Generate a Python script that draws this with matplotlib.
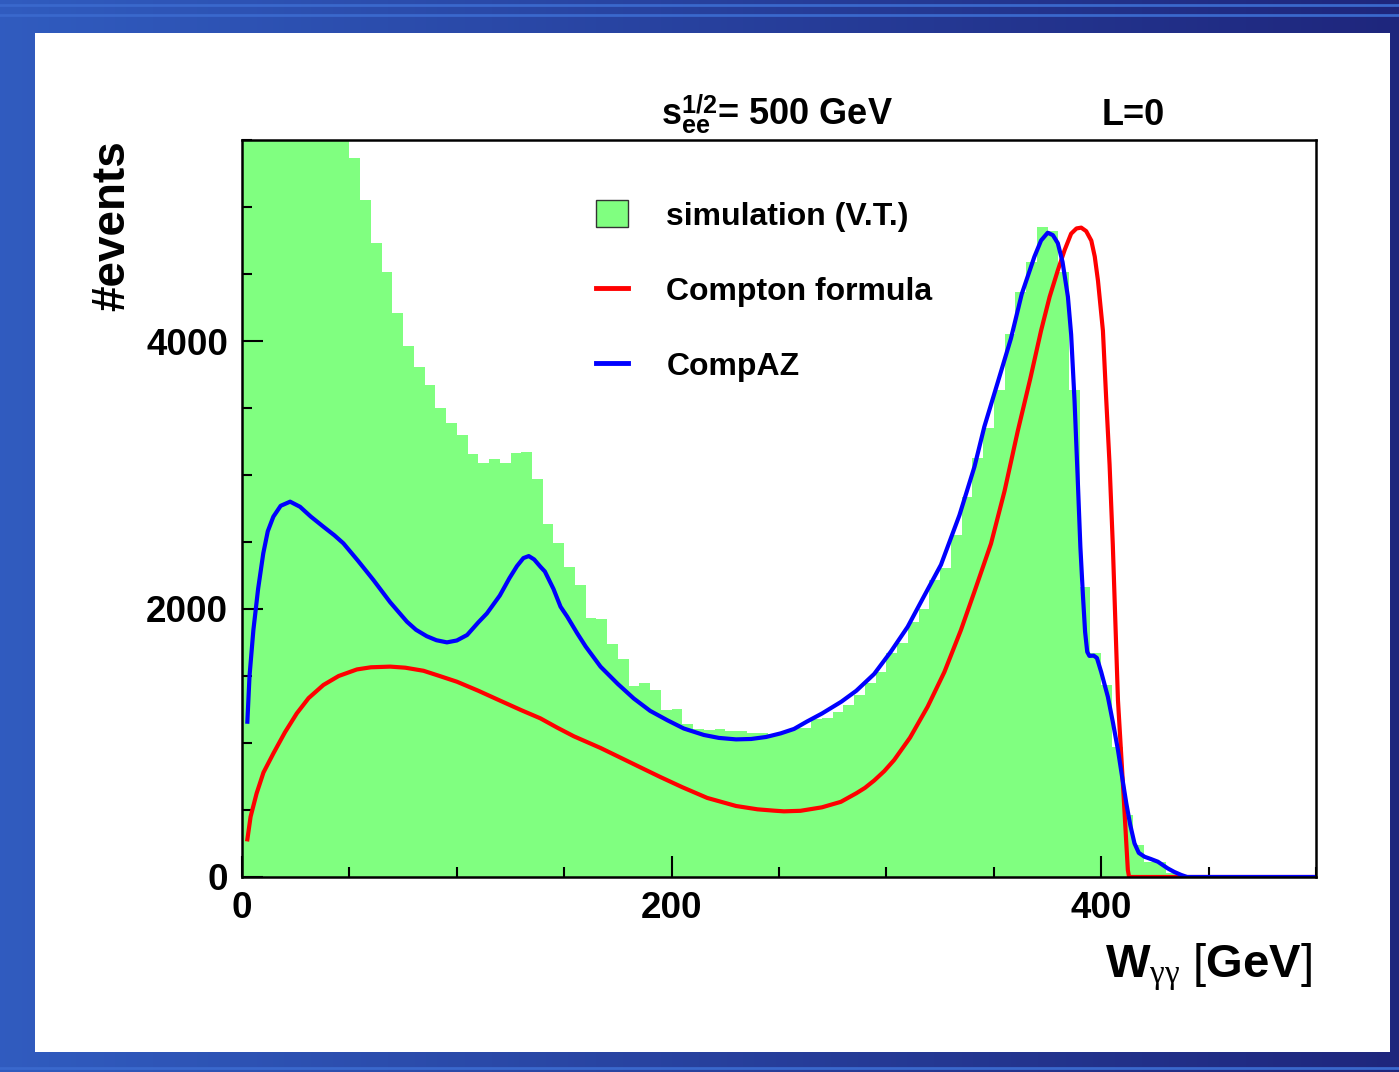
import numpy as np
import matplotlib
matplotlib.use("Agg")
import matplotlib.pyplot as plt
from matplotlib.patches import Patch, Rectangle
from matplotlib.lines import Line2D

plt.rcParams['font.family'] = ['Liberation Sans', 'DejaVu Sans']
plt.rcParams['mathtext.fontset'] = 'custom'
plt.rcParams['mathtext.rm'] = 'Liberation Sans'
plt.rcParams['mathtext.bf'] = 'Liberation Sans:bold'
plt.rcParams['mathtext.it'] = 'Liberation Serif'

# histogram: 5 GeV bins from 0 to 500 (first bins run off the top of the frame)
bin_width = 5
counts = [
    14000, 12500, 11200, 10000, 9000, 8200, 7500, 6800, 6200, 5700,      # 0-50
    5368, 5052, 4728, 4518, 4212, 3963, 3806, 3669, 3502, 3386,          # 50-100
    3300, 3160, 3092, 3117, 3092, 3166, 3174, 2970, 2634, 2490,          # 100-150
    2311, 2179, 1930, 1923, 1736, 1624, 1427, 1445, 1395, 1246,          # 150-200
    1254, 1142, 1104, 1097, 1104, 1090, 1090, 1077, 1077, 1070,          # 200-250
    1080, 1110, 1115, 1180, 1190, 1230, 1284, 1358, 1445, 1532,          # 250-300
    1669, 1746, 1904, 2003, 2216, 2303, 2552, 2838, 3124, 3348,          # 300-350
    3634, 4052, 4368, 4592, 4853, 4823, 4517, 3634, 2166, 1669,          # 350-400
    1433, 972, 463, 239, 114, 110, 30, 8, 0, 0,                          # 400-450
    0, 0, 0, 0, 0, 0, 0, 0, 0, 0,                                        # 450-500
]

# CompAZ curve
compaz_x = [2.5, 3.5, 5.3, 7.5, 9.9, 12, 14.6, 18, 22.4, 27, 32, 37.9, 43, 47.2,
            54, 61.2, 69, 76.8, 81, 86, 90.5, 95.4, 100, 104.8, 110, 114, 120, 124.5,
            128, 131, 133.5, 136, 138.9, 141, 145, 148.3, 151.4, 156, 160,
            166.9, 175, 182.4, 190, 198, 205.7, 215, 222, 230, 237, 244, 250.8,
            257, 263, 270, 279, 286, 294.3, 302, 309.9, 317, 325.4, 334, 341,
            345.6, 352, 358, 363, 368.9, 372, 375.1, 377.5, 379.8, 382, 384.5,
            386, 387.6, 389, 390.3, 391.5, 392.5, 393.5, 394.5, 396.5, 398,
            400, 403.1, 405.5, 407.8, 410, 411.7, 413.5, 415.5, 417.5, 420.2,
            423, 426.4, 431, 434, 437.3, 440, 500]
compaz_y = [1159, 1500, 1843, 2150, 2415, 2580, 2689, 2770, 2801, 2763, 2690, 2614,
            2550, 2490, 2360, 2216, 2050, 1905, 1845, 1797, 1767, 1751, 1765, 1806,
            1900, 1967, 2100, 2230, 2320, 2380, 2395, 2370, 2316, 2280, 2150, 2017,
            1943, 1820, 1720, 1570, 1440, 1332, 1240, 1170, 1108, 1060, 1038, 1027,
            1030, 1045, 1072, 1105, 1160, 1220, 1308, 1390, 1515, 1680, 1867, 2080,
            2330, 2700, 3062, 3361, 3700, 4020, 4350, 4629, 4750, 4808, 4790, 4730,
            4590, 4330, 4050, 3550, 3000, 2465, 2100, 1830, 1680, 1650, 1652, 1635,
            1530, 1345, 1150, 948, 720, 549, 390, 251, 180, 151, 135, 114, 64, 38,
            15, 0, 0]

# Compton formula curve
compton_x = [2.5, 4, 6.8, 10, 14.6, 20, 25.5, 31, 37.9, 45, 53.5, 60, 69, 76, 84.5,
             92, 100.1, 110, 120.3, 130, 138.9, 146.7, 154.5, 166.9, 175, 185.5,
             194.9, 205, 216.6, 230, 240, 247.7, 252.3, 260, 270, 278.8, 286, 290,
             294.3, 299, 303.6, 311, 319.2, 327, 334.7, 341, 348.7, 355, 361.2, 367,
             372, 376, 379.8, 383, 386, 388.5, 390.7, 393, 395.4, 397, 398.5,
             400.8, 402.3, 403.9, 405.4, 407.8, 410.1, 412.4, 413, 500]
compton_y = [281, 450, 624, 780, 922, 1080, 1221, 1335, 1433, 1500, 1549, 1565, 1570,
             1562, 1539, 1500, 1457, 1390, 1315, 1245, 1184, 1115, 1050, 963, 900,
             818, 745, 670, 590, 530, 505, 495, 490, 494, 520, 561, 625, 665, 720,
             790, 873, 1040, 1271, 1530, 1843, 2130, 2488, 2880, 3331, 3720, 4077,
             4330, 4527, 4680, 4801, 4840, 4846, 4820, 4749, 4630, 4450, 4077, 3577,
             3077, 2480, 1321, 699, 52, 0, 0]

W, H = 1399, 1072
fig = plt.figure(figsize=(W / 100, H / 100), dpi=100)

# blue gradient frame and white panel
bg = fig.add_axes([0, 0, 1, 1], zorder=-10)
grad = np.linspace(0, 1, 256)[None, :, None]
left_c = np.array([0.19, 0.36, 0.75])
right_c = np.array([0.12, 0.15, 0.49])
bg.imshow(left_c * (1 - grad) + right_c * grad, aspect='auto', extent=[0, 1, 0, 1])
for yy in [1 - 5 / H, 1 - 15 / H, 4 / H]:
    bg.axhline(yy, color='#3a68cc', lw=2)
bg.add_patch(Rectangle((35 / W, 1 - 1052 / H), (1390 - 35) / W, (1052 - 33) / H,
                       facecolor='white', edgecolor='none'))
bg.set_xlim(0, 1)
bg.set_ylim(0, 1)
bg.axis('off')

ax = fig.add_axes([242 / W, 1 - 877 / H, (1316 - 242) / W, (877 - 140) / H])
edges = np.arange(0, 500 + bin_width, bin_width)
ax.stairs(counts, edges, fill=True, color='#80ff80', lw=0)
ax.plot(compton_x, compton_y, color='#ff0000', lw=3)
ax.plot(compaz_x, compaz_y, color='#0000ff', lw=3)

ax.set_xlim(0, 500)
ax.set_ylim(0, 5500)
ax.set_xticks([0, 200, 400])
ax.set_xticks(np.arange(0, 501, 50), minor=True)
ax.set_yticks([0, 2000, 4000])
ax.set_yticks(np.arange(0, 5501, 500), minor=True)
ax.tick_params(which='both', direction='in', top=False, right=False, width=1.5,
               labelsize=26.5, pad=10)
ax.tick_params(which='major', length=15)
ax.tick_params(which='minor', length=7)
for lab in ax.get_xticklabels() + ax.get_yticklabels():
    lab.set_fontweight('bold')
for s in ax.spines.values():
    s.set_linewidth(1.8)

ax.text(-0.121, 1.0, '#events', transform=ax.transAxes, rotation=90,
        ha='center', va='top', fontsize=33, fontweight='bold')
ax.text(0.9965, -0.137, r'$\mathbf{W}_{\gamma\gamma}\ [\mathbf{GeV}]$', transform=ax.transAxes,
        ha='right', va='baseline', fontsize=34)
ax.text(0.390, 1.0204, r'$\mathbf{s}_{\mathbf{ee}}^{\mathbf{1/2}}$= 500 GeV', transform=ax.transAxes,
        ha='left', va='baseline', fontsize=26, fontweight='bold')
ax.text(0.800, 1.0204, 'L=0', transform=ax.transAxes,
        ha='left', va='baseline', fontsize=26, fontweight='bold')

handles = [Patch(facecolor='#80ff80', edgecolor='#333333', lw=1),
           Line2D([], [], color='#ff0000', lw=3.5),
           Line2D([], [], color='#0000ff', lw=3.5)]
labels = ['simulation (V.T.)', 'Compton formula', 'CompAZ']
leg = ax.legend(handles, labels, loc='upper left', bbox_to_anchor=(0.3296, 0.918),
                frameon=False, borderpad=0, borderaxespad=0, handlelength=1.0,
                handleheight=0.9, handletextpad=1.2, labelspacing=1.37,
                prop={'size': 23, 'weight': 'bold'})

fig.savefig('out.png', dpi=100)
